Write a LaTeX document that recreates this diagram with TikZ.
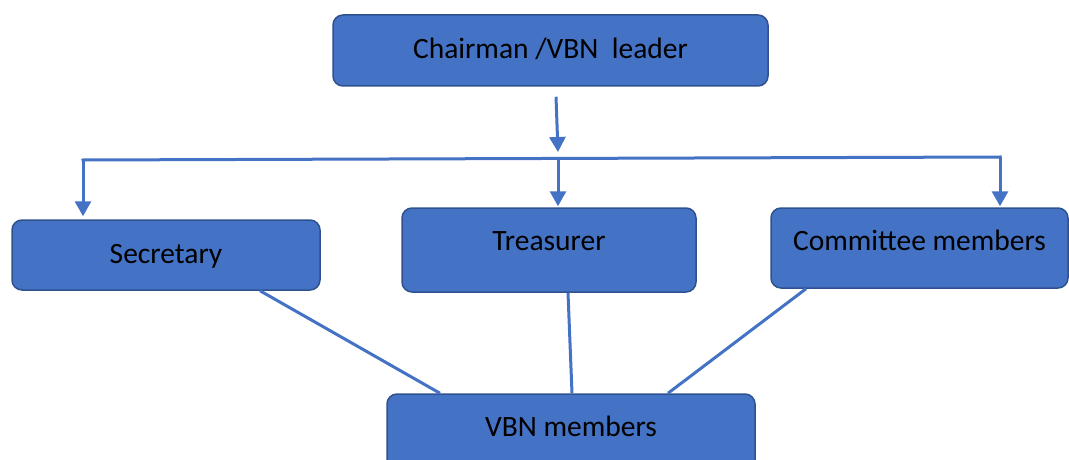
\documentclass[tikz,border=0pt]{standalone}
\usepackage{fontspec}
\setmainfont{Carlito}
\usetikzlibrary{arrows.meta}
\definecolor{boxblue}{HTML}{4472C4}
\definecolor{darkblue}{HTML}{2F528F}

\begin{document}
\begin{tikzpicture}[x=1pt, y=-1pt,
    rolebox/.style={rectangle, rounded corners=10pt, draw=darkblue, fill=boxblue,
      line width=1.5pt, inner sep=0pt, anchor=base,
      font=\fontsize{29.5}{35}\selectfont},
    link/.style={draw=boxblue, line width=3pt},
    arr/.style={link, -{Triangle[width=16pt, length=15pt]}}]
\useasboundingbox (0,0) rectangle (1069,460);

% roles
\node[rolebox, minimum width=435pt, text height=44pt, text depth=27pt] (chair) at (550.5,59) {Chairman /VBN\ \ leader};
\node[rolebox, minimum width=308pt, text height=43pt, text depth=27pt] (sec) at (166,263) {Secretary};
\node[rolebox, minimum width=294pt, text height=42pt, text depth=42pt] (treas) at (549,250) {Treasurer};
\node[rolebox, minimum width=297pt, text height=42pt, text depth=38pt] (comm) at (919.5,250) {Committee members};
\node[rolebox, minimum width=368pt, text height=42pt, text depth=34pt] (vbn) at (571,436) {VBN members};

% branching bar
\coordinate (barL) at (83,160);
\coordinate (barM) at (558,159);
\coordinate (barR) at (1000,157);

\draw[arr] ([xshift=5.5pt,yshift=-10pt]chair.south) -- ([yshift=7pt]barM);
\draw[link, line cap=rect] (barL) -- (barR);
\draw[arr] (barL) -- ([yshift=3pt]barL |- sec.north);
\draw[arr] (barM) -- ([yshift=1pt]barM |- treas.north);
\draw[arr] (barR) -- ([yshift=1pt]barR |- comm.north);

% links to members
\draw[link] ([xshift=94pt]sec.south) -- ([xshift=-131pt]vbn.north);
\draw[link] ([xshift=19pt]treas.south) -- ([xshift=1pt]vbn.north);
\draw[link] ([xshift=-113.5pt]comm.south) -- ([xshift=97pt]vbn.north);
\end{tikzpicture}
\end{document}
